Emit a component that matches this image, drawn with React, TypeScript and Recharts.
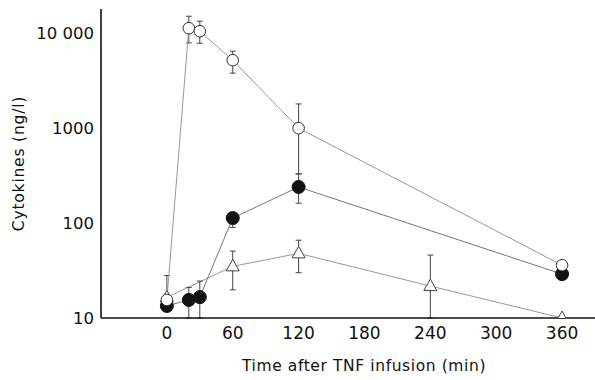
import { LineChart, Line, XAxis, YAxis, ErrorBar, Label } from 'recharts';

// minutes after infusion
const openTimes = [0, 20, 30, 60, 120, 360];
const openVals = [15.5, 11300, 10500, 5200, 1000, 36];
const openLow = [15.5, 7900, 7850, 3800, 330, 36];
const openHigh = [28, 15100, 13400, 6470, 1800, 36];

const filledTimes = [0, 20, 30, 60, 120, 360];
const filledVals = [13.4, 15.5, 16.6, 113, 240, 29];
const filledLow = [13.4, 10, 10, 90, 162, 29];
const filledHigh = [13.4, 21, 24.5, 113, 330, 29];

const triTimes = [0, 60, 120, 240, 360];
const triVals = [16.5, 35, 48, 21.7, 10];
const triLow = [16.5, 19.8, 30, 10, 10];
const triHigh = [16.5, 50.7, 66, 46, 10];

const xTicks = [0, 60, 120, 180, 240, 300, 360];
const yTicks = [10, 100, 1000, 10000];

const rows = (times: number[], vals: number[], low: number[], high: number[]) =>
  times.map((t, i) => ({ time: t, value: vals[i], err: [vals[i] - low[i], high[i] - vals[i]] }));

const openRows = rows(openTimes, openVals, openLow, openHigh);
const filledRows = rows(filledTimes, filledVals, filledLow, filledHigh);
const triRows = rows(triTimes, triVals, triLow, triHigh);

const font = '"DejaVu Sans", sans-serif';

const openDot = (p: any) => (
  <circle key={p.key} cx={p.cx} cy={p.cy} r={5.8} fill="#fff" stroke="#333" strokeWidth={1} />
);
const filledDot = (p: any) => (
  <circle key={p.key} cx={p.cx} cy={p.cy} r={6.5} fill="#111" stroke="#111" />
);
const triDot = (p: any) => (
  <polygon
    key={p.key}
    points={`${p.cx},${p.cy - 7} ${p.cx - 6.5},${p.cy + 4.5} ${p.cx + 6.5},${p.cy + 4.5}`}
    fill="#fff"
    stroke="#444"
    strokeWidth={1}
  />
);

export default function App() {
  return (
    <div style={{ position: 'absolute', left: 0, top: 0, background: '#fff' }}>
      <LineChart width={595} height={380} margin={{ top: 9, right: 0, left: 0, bottom: 0 }}>
        <XAxis
          dataKey="time"
          type="number"
          domain={[-60, 390]}
          ticks={xTicks}
          allowDataOverflow
          height={62}
          tickSize={0}
          tickMargin={9}
          axisLine={{ stroke: '#111', strokeWidth: 1.6 }}
          tick={{ fill: '#111', fontSize: 17, fontFamily: font }}
        >
          <Label
            content={({ viewBox }: any) => (
              <text
                x={viewBox.x + viewBox.width / 2 + 16}
                y={viewBox.y + 53}
                textAnchor="middle"
                fontSize={15.5}
                fontFamily={font}
                letterSpacing={0.6}
                fill="#111"
              >
                Time after TNF infusion (min)
              </text>
            )}
          />
        </XAxis>
        <YAxis
          type="number"
          scale="log"
          domain={[10, 18000]}
          ticks={yTicks}
          allowDataOverflow
          width={101}
          tickSize={0}
          tickMargin={7}
          axisLine={{ stroke: '#111', strokeWidth: 1.6 }}
          tick={{ fill: '#111', fontSize: 16.5, fontFamily: font }}
          tickFormatter={(v: number) => (v === 10000 ? '10 000' : String(v))}
        >
          <Label
            content={({ viewBox }: any) => (
              <text
                x={19}
                y={viewBox.y + viewBox.height / 2}
                transform={`rotate(-90, 19, ${viewBox.y + viewBox.height / 2})`}
                textAnchor="middle"
                dominantBaseline="middle"
                fontSize={15.5}
                fontFamily={font}
                letterSpacing={0.8}
                fill="#111"
              >
                Cytokines (ng/l)
              </text>
            )}
          />
        </YAxis>
        <Line
          data={triRows}
          dataKey="value"
          type="linear"
          stroke="#999"
          strokeWidth={1}
          dot={triDot}
          isAnimationActive={false}
        >
          <ErrorBar dataKey="err" direction="y" width={3} stroke="#444" strokeWidth={1} />
        </Line>
        <Line
          data={filledRows}
          dataKey="value"
          type="linear"
          stroke="#777"
          strokeWidth={1}
          dot={filledDot}
          isAnimationActive={false}
        >
          <ErrorBar dataKey="err" direction="y" width={3} stroke="#444" strokeWidth={1} />
        </Line>
        <Line
          data={openRows}
          dataKey="value"
          type="linear"
          stroke="#999"
          strokeWidth={1}
          dot={openDot}
          isAnimationActive={false}
        >
          <ErrorBar dataKey="err" direction="y" width={3} stroke="#444" strokeWidth={1} />
        </Line>
      </LineChart>
    </div>
  );
}
